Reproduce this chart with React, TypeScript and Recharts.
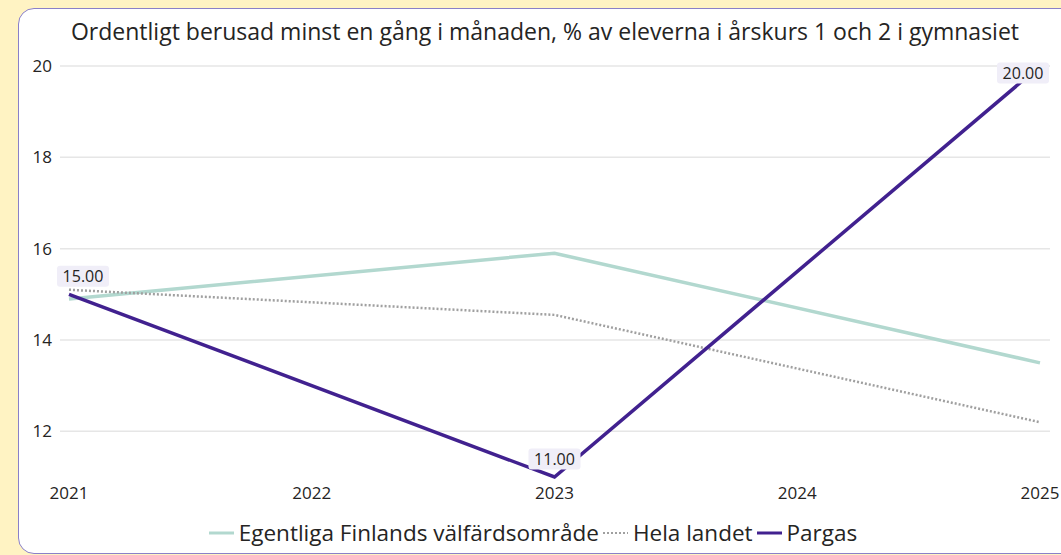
import { LineChart, Line, XAxis, YAxis, CartesianGrid, Legend, LabelList } from "recharts";

const years = ["2021", "2022", "2023", "2024", "2025"];
const egentligaFinland = [14.9, null, 15.9, null, 13.5];
const helaLandet = [15.1, null, 14.55, null, 12.2];
const pargas = [15, null, 11, null, 20];
const yTicks = [12, 14, 16, 18, 20];

const chartData = years.map((year, i) => ({
  year,
  egentliga: egentligaFinland[i],
  hela: helaLandet[i],
  pargas: pargas[i],
}));

const FONT = "'Segoe UI', 'Open Sans', 'Noto Sans', sans-serif";
const PLOT_TOP = 66;

// Power BI style data label with a pale box, kept inside the plot
function PargasLabel(props: any) {
  const { x, y, value } = props;
  if (value == null) return null;
  const text = Number(value).toFixed(2);
  const w = 52;
  const h = 21;
  const cx = Math.min(Math.max(x, 83), 1023);
  const cy = y - 18 < PLOT_TOP + 10 ? y + 7 : y - 18;
  return (
    <g>
      <rect x={cx - w / 2} y={cy - h / 2} width={w} height={h} rx={3} fill="#f0eef8" />
      <text x={cx} y={cy} textAnchor="middle" dominantBaseline="central" fontSize={16} fill="#252423" fontFamily={FONT}>
        {text}
      </text>
    </g>
  );
}

function LegendContent() {
  const items = [
    { name: "Egentliga Finlands välfärdsområde", color: "#b2d8cf", dash: undefined, w: 3 },
    { name: "Hela landet", color: "#a0a0a0", dash: "2 2", w: 2 },
    { name: "Pargas", color: "#41218f", dash: undefined, w: 3 },
  ];
  return (
    <div style={{ display: "flex", justifyContent: "center", alignItems: "center", fontFamily: FONT, fontSize: 22.5, color: "#252423" }}>
      {items.map((it) => (
        <div key={it.name} style={{ display: "flex", alignItems: "center", marginRight: 4 }}>
          <svg width={25} height={10} style={{ marginRight: 5 }}>
            <line x1={0} y1={5} x2={25} y2={5} stroke={it.color} strokeWidth={it.w} strokeDasharray={it.dash} />
          </svg>
          <span>{it.name}</span>
        </div>
      ))}
    </div>
  );
}

export default function App() {
  return (
    <div style={{ position: "fixed", left: 0, top: 0, width: 1061, height: 555, background: "#fff3c3", overflow: "hidden" }}>
      <div
        style={{
          position: "absolute",
          left: 18,
          top: 8,
          width: 1070,
          height: 544,
          background: "#ffffff",
          border: "1.5px solid #8a80c8",
          borderRadius: 16,
        }}
      />
      <div
        style={{
          position: "absolute",
          left: 18,
          top: 15,
          width: 1054,
          textAlign: "center",
          fontFamily: FONT,
          fontSize: 23,
          color: "#252423",
          whiteSpace: "nowrap",
        }}
      >
        Ordentligt berusad minst en gång i månaden, % av eleverna i årskurs 1 och 2 i gymnasiet
      </div>
      <div style={{ position: "absolute", left: 0, top: 0 }}>
        <LineChart width={1061} height={555} data={chartData} margin={{ top: PLOT_TOP, right: 11, left: 20, bottom: 7 }}>
          <CartesianGrid vertical={false} stroke="#e6e6e6" strokeWidth={1.5} horizontalValues={yTicks} />
          <XAxis
            dataKey="year"
            axisLine={false}
            tickLine={false}
            padding={{ left: 9, right: 10 }}
            tick={{ fontSize: 17, fill: "#252423", fontFamily: FONT }}
            tickMargin={4}
            height={40}
            interval={0}
          />
          <YAxis
            domain={[11, 20]}
            ticks={yTicks}
            axisLine={false}
            tickLine={false}
            width={40}
            tick={{ fontSize: 17, fill: "#252423", fontFamily: FONT }}
          />
          <Legend verticalAlign="bottom" content={<LegendContent />} />
          <Line
            dataKey="egentliga"
            name="Egentliga Finlands välfärdsområde"
            stroke="#b2d8cf"
            strokeWidth={3.5}
            dot={false}
            connectNulls
            isAnimationActive={false}
          />
          <Line
            dataKey="hela"
            name="Hela landet"
            stroke="#a0a0a0"
            strokeWidth={2.5}
            strokeDasharray="2 2"
            dot={false}
            connectNulls
            isAnimationActive={false}
          />
          <Line
            dataKey="pargas"
            name="Pargas"
            stroke="#41218f"
            strokeWidth={3.5}
            dot={false}
            connectNulls
            isAnimationActive={false}
          >
            <LabelList dataKey="pargas" content={<PargasLabel />} />
          </Line>
        </LineChart>
      </div>
    </div>
  );
}
